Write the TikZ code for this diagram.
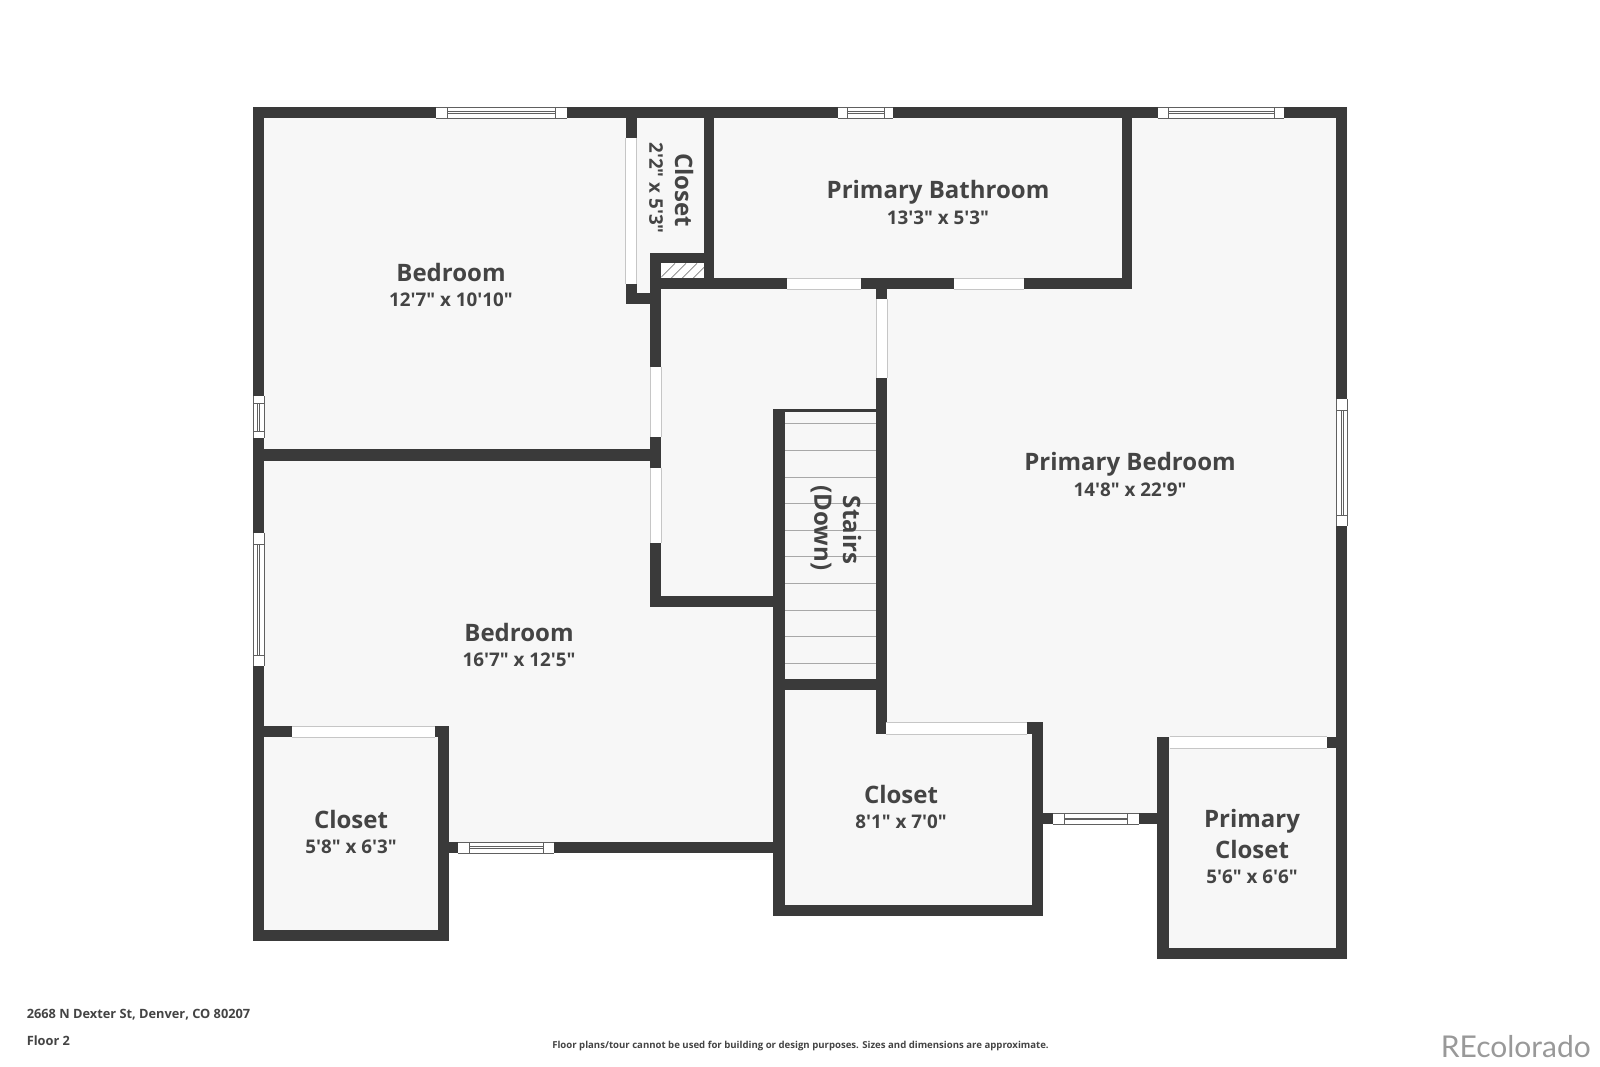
\documentclass[tikz,border=0pt]{standalone}
\usepackage{fontspec}
\setmainfont{Open Sans}
\newfontfamily\titlefont{Open Sans}
\newfontfamily\dimfont{Open Sans}
\newfontfamily\brandfont{Lato}
\definecolor{wallc}{HTML}{3A3A3A}
\definecolor{floorc}{HTML}{F7F7F7}
\definecolor{textc}{HTML}{444444}
\definecolor{doorl}{HTML}{C6C6C6}
\definecolor{winl}{HTML}{606060}
\newcommand{\wl}[4]{\fill[wallc] (#1,#2) rectangle (#3,#4);}
\newcommand{\dr}[4]{\fill[white] (#1,#2) rectangle (#3,#4);}
\newcommand{\hdoor}[4]{\dr{#1}{#2}{#3}{#4}\draw[doorline] (#1,#2) -- (#3,#2) (#1,#4) -- (#3,#4);}
\newcommand{\vdoor}[4]{\dr{#1}{#2}{#3}{#4}\draw[doorline] (#1,#2) -- (#1,#4) (#3,#2) -- (#3,#4);}
\newcommand{\hwin}[6]{\fill[white] (#1,#5) rectangle (#4,#6);
  \draw[winline] (#1,#5) -- (#4,#5) (#1,#6) -- (#4,#6) (#2,#5) -- (#2,#6) (#3,#5) -- (#3,#6);
  \draw[winline] (#2,{#5+(#6-#5)*0.42}) -- (#3,{#5+(#6-#5)*0.42}) (#2,{#5+(#6-#5)*0.6}) -- (#3,{#5+(#6-#5)*0.6});}
\newcommand{\vwin}[6]{\fill[white] (#5,#1) rectangle (#6,#4);
  \draw[winline] (#5,#1) -- (#5,#4) (#6,#1) -- (#6,#4) (#5,#2) -- (#6,#2) (#5,#3) -- (#6,#3);
  \draw[winline] ({#5+(#6-#5)*0.42},#2) -- ({#5+(#6-#5)*0.42},#3) ({#5+(#6-#5)*0.6},#2) -- ({#5+(#6-#5)*0.6},#3);}
\begin{document}
\begin{tikzpicture}[x=1pt,y=-1pt,
  doorline/.style={draw=doorl,line width=0.9pt},
  winline/.style={draw=winl,line width=0.6pt},
  stairline/.style={draw=doorl!85!black,line width=0.8pt},
  hatchline/.style={draw=winl!80,line width=0.7pt},
  room/.style={inner sep=0pt,text=textc,font=\titlefont\bfseries\fontsize{24}{24}\selectfont},
  dims/.style={inner sep=0pt,text=textc,font=\dimfont\bfseries\fontsize{18.8}{19}\selectfont},
  foot/.style={inner sep=0pt,anchor=west,text=textc,font=\dimfont\bfseries\fontsize{12.8}{13}\selectfont}]
\useasboundingbox (0,0) rectangle (1600,1066);
\fill[white] (0,0) rectangle (1600,1066);
% floor
\fill[floorc] (253,107) -- (1347.4,107) -- (1347.4,959.3) -- (1156.9,959.3) -- (1156.9,824) -- (1042.8,824) -- (1042.8,916) -- (773.4,916) -- (773.4,852.9) -- (448.6,852.9) -- (448.6,940.7) -- (253,940.7) -- cycle;
% stairs treads
\foreach \yy in {423.3,450.4,476.9,503.4,530,556.8,583.6,610.4,636.8,662.9}
  \draw[stairline] (784.9,\yy) -- (876,\yy);
% hatch
\fill[white] (661.4,263.3) rectangle (704,278.3);
\begin{scope}
\clip (661.4,263.3) rectangle (704,278.3);
\foreach \xx in {660,671,682,693,704}
  \draw[hatchline] (\xx,278.3) -- (\xx+15,263.3);
\end{scope}
% walls
\wl{253}{107}{1347.4}{118}
\wl{253}{107}{264.3}{940.7}
\wl{1336}{107}{1347.4}{959.3}
\wl{253}{929.6}{448.6}{940.7}
\wl{264}{726.4}{291.8}{737}
\wl{435.4}{726.4}{448.6}{737}
\wl{437.5}{726.4}{448.6}{940.7}
\wl{448.6}{842}{773.4}{852.9}
\wl{253}{449.3}{661.4}{460.7}
\wl{650}{253.3}{661.4}{366.7}
\wl{650}{437}{661.4}{467.5}
\wl{650}{543}{661.4}{607}
\wl{650}{595.7}{784.9}{607}
\wl{773.4}{408.7}{784.9}{916}
\wl{784}{408.7}{876}{411.5}
\wl{773.4}{679}{876}{690}
\wl{876}{278}{887}{299.3}
\wl{876}{377.7}{887}{733.8}
\wl{1026.7}{722.3}{1042.8}{734}
\wl{1031.7}{722.3}{1042.8}{916}
\wl{773.4}{905}{1042.8}{916}
\wl{650}{278.3}{787.4}{289.3}
\wl{861.4}{278.3}{953.5}{289.3}
\wl{1024}{278.3}{1132.2}{289.3}
\wl{1121.6}{107}{1132.2}{289.3}
\wl{704}{107}{714}{289.3}
\wl{650}{253.3}{714}{263.3}
\wl{625.7}{107}{636.7}{137.7}
\wl{625.7}{284}{636.7}{304}
\wl{625.7}{293.3}{650}{304}
\wl{1156.9}{736.7}{1168.7}{959.3}
\wl{1156.9}{947.7}{1347.4}{959.3}
\wl{1326.8}{736.7}{1336}{748.3}
\wl{1042.8}{813.3}{1052.8}{824}
\wl{1138.9}{813.3}{1156.9}{824}
% doors
\vdoor{625.7}{137.7}{636.7}{284}
\vdoor{650}{366.7}{661.4}{437}
\vdoor{650}{467.5}{661.4}{543}
\vdoor{876}{299.3}{887}{377.7}
\hdoor{787.4}{278.3}{861.4}{289.3}
\hdoor{953.5}{278.3}{1024}{289.3}
\hdoor{291.8}{726.4}{435.4}{737}
\hdoor{886.3}{722.3}{1026.7}{734}
\hdoor{1169.5}{736.7}{1326.8}{748.3}
% windows
\hwin{436}{447.3}{555}{566.7}{107}{118}
\hwin{837.7}{846.8}{884.3}{892.6}{107}{118}
\hwin{1157.6}{1168.6}{1273.8}{1284}{107}{118}
\hwin{458}{469.6}{543}{554.3}{842}{852.9}
\hwin{1052.8}{1064.2}{1127.4}{1138.9}{813.3}{824}
\vwin{396}{403}{431}{438}{253}{264.3}
\vwin{532.5}{544}{655}{665.7}{253}{264.3}
\vwin{399.3}{410}{515}{526}{1336}{1347.4}
% labels
\node[room] (bed1) at (451,272) {Bedroom};
\node[dims] (bed1d) at (451,300) {12'7" x 10'10"};
\node[room,rotate=-90] (clo0) at (684,190) {Closet};
\node[dims,rotate=-90] (clo0d) at (656,188) {2'2" x 5'3"};
\node[room] (bath) at (938,192.5) {Primary Bathroom};
\node[dims] (bathd) at (938,218) {13'3" x 5'3"};
\node[room] (pbed) at (1130,464) {Primary Bedroom};
\node[dims] (pbedd) at (1130,490) {14'8" x 22'9"};
\node[room,rotate=-90] (stairs) at (852,530) {Stairs};
\node[room,rotate=-90] (down) at (821,528) {(Down)};
\node[room] (bed2) at (519,632) {Bedroom};
\node[dims] (bed2d) at (519,660) {16'7" x 12'5"};
\node[room] (clo1) at (351,819) {Closet};
\node[dims] (clo1d) at (351,847) {5'8" x 6'3"};
\node[room] (clo2) at (901,794.5) {Closet};
\node[dims] (clo2d) at (901,822) {8'1" x 7'0"};
\node[room] (pclo1) at (1252,821) {Primary};
\node[room] (pclo2) at (1252,849) {Closet};
\node[dims] (pclod) at (1252,876.5) {5'6" x 6'6"};
% footer
\node[foot] (addr) at (26.6,1014.5) {2668 N Dexter St, Denver, CO 80207};
\node[foot] (floorlab) at (26.6,1040.5) {Floor 2};
\node[inner sep=0pt,text=textc,font=\dimfont\bfseries\fontsize{9.6}{10}\selectfont] (disc) at (800.5,1046) {Floor plans/tour cannot be used for building or design purposes. Sizes and dimensions are approximate.};
\node[inner sep=0pt,anchor=east,text=black!40,font=\brandfont\fontsize{30}{30}\selectfont] (brand) at (1591,1047) {REcolorado};
\end{tikzpicture}
\end{document}
